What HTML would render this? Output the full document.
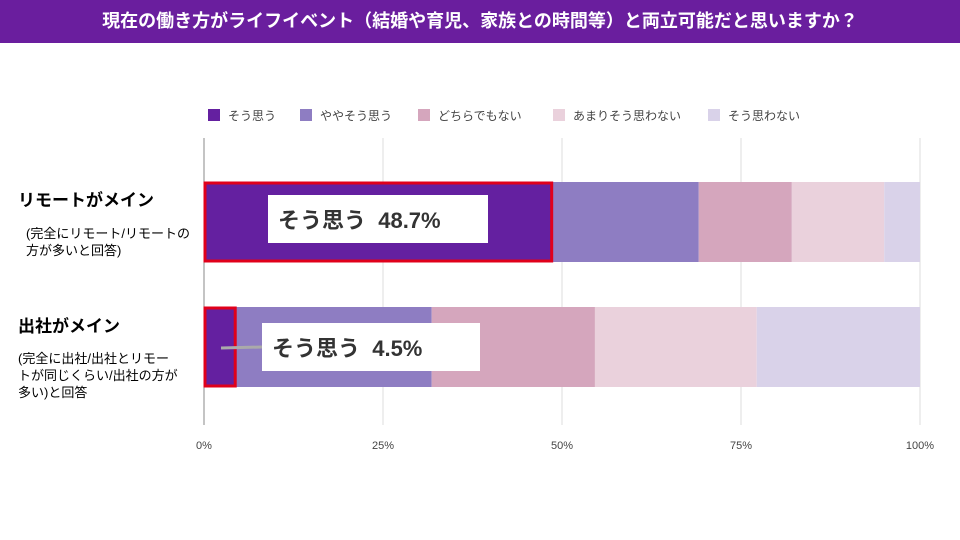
<!DOCTYPE html>
<html><head><meta charset="utf-8">
<style>
body{margin:0;width:960px;height:540px;background:#fff;font-family:"Liberation Sans","Noto Sans CJK JP",sans-serif;position:relative;overflow:hidden}
.hdr{position:absolute;left:0;top:0;width:960px;height:43px;background:#6a1e9e;color:#fff;font-weight:bold;font-size:18px;text-align:center;line-height:43px}
.lab{position:absolute;color:#000}
</style></head><body>
<div class="hdr">現在の働き方がライフイベント（結婚や育児、家族との時間等）と両立可能だと思いますか？</div>
<div class="lab" style="left:18px;top:186px;font-size:17px;font-weight:bold">リモートがメイン</div>
<div class="lab" style="left:26px;top:225px;font-size:13px;line-height:17px">(完全にリモート/リモートの<br>方が多いと回答)</div>
<div class="lab" style="left:18px;top:312px;font-size:17px;font-weight:bold">出社がメイン</div>
<div class="lab" style="left:18px;top:350px;font-size:13px;line-height:17px">(完全に出社/出社とリモー<br>トが同じくらい/出社の方が<br>多い)と回答</div>
<svg id="chart" width="960" height="540" style="position:absolute;left:0;top:0"></svg>
<script>
const categories=["リモートがメイン","出社がメイン"];
const seriesNames=["そう思う","ややそう思う","どちらでもない","あまりそう思わない","そう思わない"];
const s1=[48.7,4.5];
const s2=[20.4,27.3];
const s3=[13.0,22.8];
const s4=[12.9,22.6];
const s5=[5.0,22.8];
const ticks=[0,25,50,75,100];
const tickLabels=["0%","25%","50%","75%","100%"];
const colors=["#6420a0","#8e7dc2","#d5a6bd","#ead1dc","#d9d2e9"];
const series=[s1,s2,s3,s4,s5];
const NS="http://www.w3.org/2000/svg";
const svg=document.getElementById('chart');
const X=v=>204+v/100*716;
const barTop=[182,307],barH=80;
function mk(t,a){const e=document.createElementNS(NS,t);for(const k in a)e.setAttribute(k,a[k]);svg.appendChild(e);return e;}
ticks.forEach((t,i)=>{
 const l=mk('line',{x1:X(t),x2:X(t),y1:138,y2:425,stroke:i==0?'#888':'#ddd','stroke-width':1});
 
 
 const tx=mk('text',{x:X(t),y:449,'text-anchor':'middle','font-size':11,fill:'#444'});
 tx.textContent=tickLabels[i];
 
 
});
categories.forEach((c,ci)=>{
 let acc=0;
 series.forEach((s,si)=>{
  const r=mk('rect',{x:X(acc),y:barTop[ci],width:X(acc+s[ci])-X(acc),height:barH,fill:colors[si]});
  
  
  acc+=s[ci];
 });
 const h=mk('rect',{x:X(0)+1,y:barTop[ci]+1,width:X(s1[ci])-X(0)-2,height:barH-2,fill:'none',stroke:'#e0001b','stroke-width':3});
 
 
});
const ln=mk('line',{x1:221,x2:262,y1:348,y2:347,stroke:'#aaa','stroke-width':3});


[[268,195,220,48,0],[262,323,218,48,1]].forEach(([x,y,w,h,ci])=>{
 const b=mk('rect',{x:x,y:y,width:w,height:h,fill:'#fff'});
 
 
 const t=mk('text',{x:x+10,y:y+33,'font-size':22,'font-weight':'bold',fill:'#333'});
 t.textContent=seriesNames[0]+'\u00a0\u00a0'+s1[ci]+'%';
 
 
});
const lx=[208,300,418,553,708];
seriesNames.forEach((n,i)=>{
 const r=mk('rect',{x:lx[i],y:109,width:12,height:12,fill:colors[i]});
 
 
 const t=mk('text',{x:lx[i]+20,y:120,'font-size':12,fill:'#444'});
 t.textContent=n;
 
 
});
</script>
</body></html>
